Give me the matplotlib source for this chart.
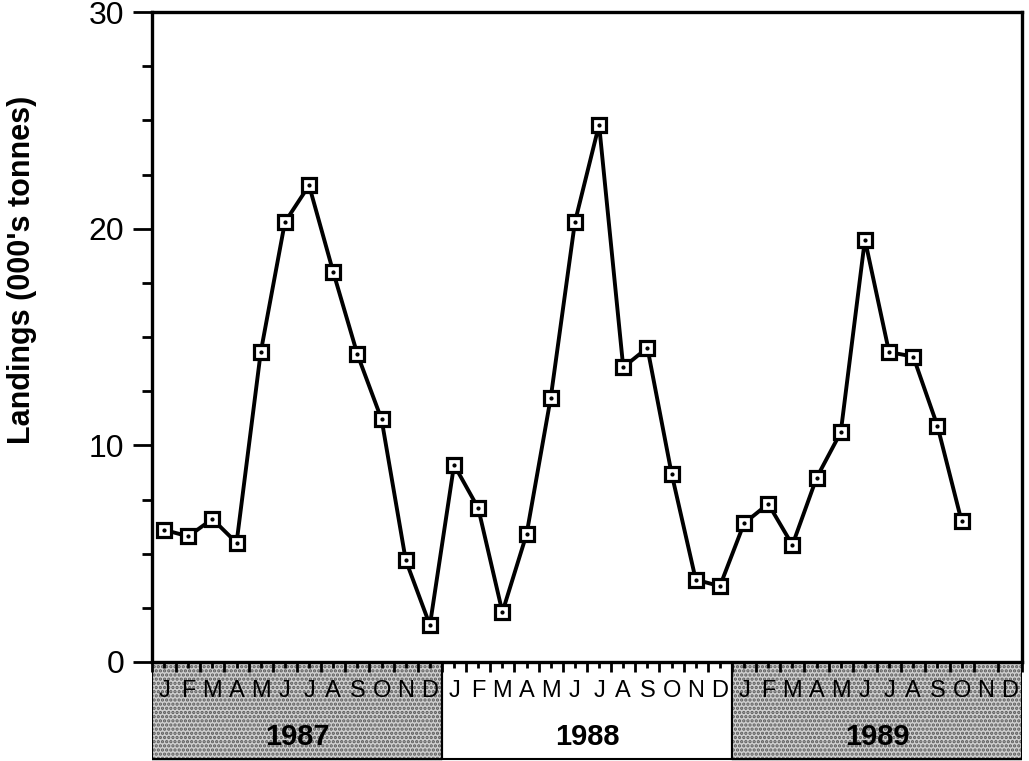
import matplotlib.pyplot as plt
from matplotlib.patches import Rectangle
import numpy as np

plt.rcParams['font.family'] = ['Liberation Sans', 'DejaVu Sans']

# --- Datos ---
years = ['1987', '1988', '1989']
month_letters = ['J', 'F', 'M', 'A', 'M', 'J', 'J', 'A', 'S', 'O', 'N', 'D']
landings_1987 = [6.1, 5.8, 6.6, 5.5, 14.3, 20.3, 22.0, 18.0, 14.2, 11.2, 4.7, 1.7]
landings_1988 = [9.1, 7.1, 2.3, 5.9, 12.2, 20.3, 24.8, 13.6, 14.5, 8.7, 3.8, 3.5]
landings_1989 = [6.4, 7.3, 5.4, 8.5, 10.6, 19.5, 14.3, 14.1, 10.9, 6.5]

values = landings_1987 + landings_1988 + landings_1989
x = np.arange(len(values)) + 0.5
n_months = 12 * len(years)

fig = plt.figure(figsize=(10.29, 7.61), dpi=100)
ax = fig.add_axes([0.1477, 0.1301, 0.8455, 0.8541])

# linea + marcadores cuadrados con punto central
ax.plot(x, values, color='black', linewidth=2.8, zorder=2)
ax.plot(x, values, linestyle='none', marker='s', markersize=9.5,
        markerfacecolor='white', markeredgecolor='black', markeredgewidth=2.3, zorder=3)
ax.plot(x, values, linestyle='none', marker='o', markersize=2.0,
        color='black', zorder=4)

ax.set_xlim(0, n_months)
ax.set_ylim(0, 30)

for side in ['left', 'bottom', 'top', 'right']:
    ax.spines[side].set_linewidth(2.4)

ax.set_yticks([0, 10, 20, 30])
ax.set_yticks(np.arange(0, 30.1, 2.5), minor=True)
ax.tick_params(axis='y', which='major', direction='out', length=14, width=2, labelsize=23, pad=6)
ax.tick_params(axis='y', which='minor', direction='out', length=7, width=2)

ax.set_xticks(np.arange(0, n_months + 1, 1))
ax.set_xticks(x, minor=True)
ax.tick_params(axis='x', which='major', direction='out', length=7, width=2, labelbottom=False)
ax.tick_params(axis='x', which='minor', direction='out', length=4, width=2)

ax.set_ylabel("Landings (000's tonnes)", fontsize=22, fontweight='bold')
ax.yaxis.set_label_coords(-0.132, 0.603)

# --- Franja inferior con meses y años ---
lab = fig.add_axes([0.1477, 0.0, 0.8455, 0.1301], zorder=-1)
lab.set_xlim(0, n_months)
lab.set_ylim(0, 1)
lab.axis('off')

plt.rcParams['hatch.linewidth'] = 1.6
for i, yr in enumerate(years):
    x0 = 12 * i
    if i != 1:
        lab.add_patch(Rectangle((x0, 0), 12, 1, facecolor='#cfcfcf', edgecolor='#5a5a5a',
                                hatch='....', linewidth=0))
    lab.add_patch(Rectangle((x0, 0.02), 12, 0.98, facecolor='none', edgecolor='black',
                            linewidth=1.5))
    for m, letter in enumerate(month_letters):
        lab.text(x0 + m + 0.5, 0.71, letter, ha='center', va='center', fontsize=17)
    lab.text(x0 + 6, 0.24, yr, ha='center', va='center', fontsize=21, fontweight='bold')

fig.savefig('out.png', dpi=100)
